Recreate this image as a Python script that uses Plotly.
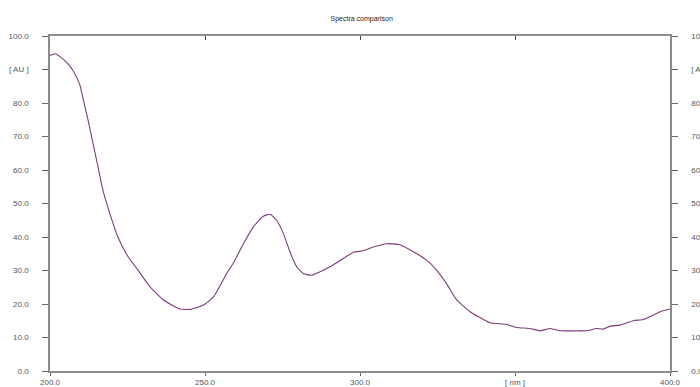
import plotly.graph_objects as go

wavelength = [200.0, 201.7, 203.1, 205.8, 207.4, 209.6, 211.0, 212.3, 213.9, 215.5, 217.1, 219.3,
              221.9, 225.2, 228.4, 232.3, 236.6, 241.9, 245.2, 249.5, 252.7, 257.0, 259.0, 262.4,
              265.6, 268.8, 271.0, 273.1, 275.3, 277.4, 279.6, 281.7, 284.4, 287.1, 290.3, 293.5,
              297.8, 301.0, 304.3, 308.6, 312.9, 317.2, 321.5, 324.7, 327.9, 331.2, 335.5, 338.2,
              341.9, 347.3, 350.5, 354.8, 358.1, 361.3, 364.5, 369.9, 373.1, 376.3, 378.5, 380.6,
              383.9, 388.2, 391.4, 394.6, 396.8, 400.0]
absorbance = [94.2, 94.7, 93.9, 91.7, 89.7, 85.5, 80.0, 74.8, 67.8, 60.9, 53.9, 47.0,
              40.0, 34.1, 30.1, 25.1, 21.2, 18.5, 18.4, 19.7, 22.1, 29.1, 32.0, 38.0,
              43.0, 46.2, 46.8, 45.0, 41.0, 35.6, 31.1, 29.1, 28.6, 29.6, 31.1, 32.9,
              35.4, 35.9, 37.0, 38.0, 37.7, 35.6, 33.1, 30.1, 26.1, 21.2, 17.7, 16.2,
              14.4, 13.9, 13.0, 12.7, 12.0, 12.7, 12.0, 12.0, 12.0, 12.7, 12.5, 13.4,
              13.7, 15.0, 15.4, 16.7, 17.7, 18.5]

x_tick_vals = [200, 250, 300, 350, 400]
x_tick_text = ["200.0", "250.0", "300.0", "[ nm ]", "400.0"]
y_tick_vals = [0, 10, 20, 30, 40, 50, 60, 70, 80, 90, 100]
y_tick_text = ["0.0", "10.0", "20.0", "30.0", "40.0", "50.0", "60.0", "70.0", "80.0", "[ AU ]", "100.0"]

axis_col = "#8c8c8c"
tick_col = "#666666"
label_col = "#555555"
font = dict(family="Liberation Sans, Arial, sans-serif", size=8, color=label_col)

fig = go.Figure()
fig.add_trace(go.Scatter(x=wavelength, y=absorbance, mode="lines",
                         line=dict(color="#7c3c7a", width=1.1, shape="spline", smoothing=0.5),
                         showlegend=False, hoverinfo="skip"))
# invisible trace for secondary axes
fig.add_trace(go.Scatter(x=[200, 400], y=[0, 100], xaxis="x2", yaxis="y2", mode="markers",
                         marker=dict(opacity=0), showlegend=False, hoverinfo="skip"))

fig.update_layout(
    width=700, height=387,
    margin=dict(l=50, r=30, t=36, b=16, autoexpand=False),
    paper_bgcolor="white", plot_bgcolor="white",
    title=dict(text="Spectra comparison", x=0.5167, xanchor="center", y=0.951, yanchor="middle",
               font=dict(family="Liberation Sans, Arial, sans-serif", size=7, color="#222222")),
    xaxis=dict(range=[200, 400], tickvals=x_tick_vals, ticktext=x_tick_text, automargin=False,
               showgrid=False, zeroline=False, showline=True, linecolor=axis_col, linewidth=1.5,
               ticks="outside", ticklen=3, tickcolor=tick_col, tickfont=font, ticklabelstandoff=0),
    xaxis2=dict(range=[200, 400], overlaying="x", side="top", anchor="y", automargin=False,
                tickvals=[250, 300, 350], showticklabels=False,
                showgrid=False, zeroline=False, showline=True, linecolor=axis_col, linewidth=1.5,
                ticks="inside", ticklen=4, tickcolor="#444444"),
    yaxis=dict(range=[0, 100], tickvals=y_tick_vals, ticktext=y_tick_text, automargin=False,
               showgrid=False, zeroline=False, showline=True, linecolor=axis_col, linewidth=1.5,
               ticks="outside", ticklen=6, tickcolor=tick_col, tickfont=font, ticklabelstandoff=12),
    yaxis2=dict(range=[0, 100], overlaying="y", side="right", anchor="x", automargin=False,
                tickvals=y_tick_vals, ticktext=y_tick_text,
                showgrid=False, zeroline=False, showline=True, linecolor=axis_col, linewidth=1.5,
                ticks="outside", ticklen=6, tickcolor=tick_col, tickfont=font, ticklabelstandoff=12),
)

fig.write_html("out.html")
